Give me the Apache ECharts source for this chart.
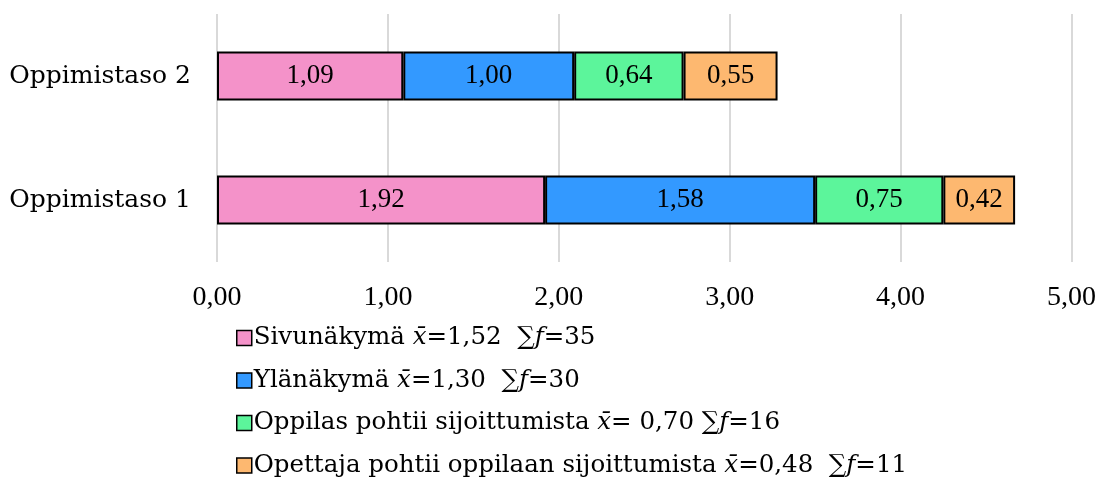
<!DOCTYPE html>
<html>
<head>
<meta charset="utf-8">
<script src="https://cdn.jsdelivr.net/npm/echarts@6/dist/echarts.min.js"></script>
<style>
  html, body { margin: 0; padding: 0; background: #fff; }
  #chart { width: 1099px; height: 483px; }
</style>
</head>
<body>
<div id="chart"></div>
<script>
// Learning levels (bottom to top on the category axis)
const categories = ['Oppimistaso 1', 'Oppimistaso 2'];

// Series names and their per-level values
const seriesNames = ['Sivunäkymä', 'Ylänäkymä', 'Oppilas pohtii sijoittumista', 'Opettaja pohtii oppilaan sijoittumista'];
const sivunakyma = [1.92, 1.09];
const ylanakyma = [1.58, 1.00];
const oppilasPohtii = [0.75, 0.64];
const opettajaPohtii = [0.42, 0.55];

// Legend statistics: mean and frequency sum per series
const meanText = ['=1,52', '=1,30', '= 0,70', '=0,48'];
const sumText = ['35', '30', '16', '11'];
const sumGap = ['  ', '  ', ' ', '  '];

// Axis ticks
const xTicks = [0, 1, 2, 3, 4, 5];

const colors = ['#F492C9', '#3399FF', '#5CF59B', '#FDB870'];
const NUM_FONT = 'Liberation Serif';
const TEXT_FONT = 'DejaVu Serif';

const values = [sivunakyma, ylanakyma, oppilasPohtii, opettajaPohtii];

const chart = echarts.init(document.getElementById('chart'), null, { renderer: 'canvas' });

const fmt = v => v.toFixed(2).replace('.', ',');

chart.setOption({
  animation: false,
  textStyle: { fontFamily: NUM_FONT, color: '#000' },
  grid: { left: 217, right: 27, top: 14, bottom: 221, containLabel: false },
  xAxis: {
    type: 'value',
    min: xTicks[0],
    max: xTicks[xTicks.length - 1],
    interval: 1,
    axisLine: { show: false },
    axisTick: { show: false },
    splitLine: { show: true, lineStyle: { color: '#D9D9D9', width: 2 } },
    axisLabel: {
      margin: 22,
      fontFamily: NUM_FONT,
      fontSize: 28,
      color: '#000',
      formatter: v => fmt(v)
    }
  },
  yAxis: {
    type: 'category',
    data: categories,
    axisLine: { show: false },
    axisTick: { show: false },
    axisLabel: { margin: 26, fontFamily: TEXT_FONT, fontSize: 25, color: '#000' }
  },
  legend: {
    orient: 'vertical',
    left: 231,
    top: 319,
    height: 200,
    itemWidth: 15,
    itemHeight: 15,
    itemGap: 14.5,
    icon: 'rect',
    data: seriesNames,
    itemStyle: { borderColor: '#000', borderWidth: 1.5 },
    textStyle: {
      fontFamily: TEXT_FONT,
      fontSize: 24.5,
      color: '#000',
      lineHeight: 28,
      padding: [0, 0, 0, -3],
      rich: {
        n: { fontFamily: TEXT_FONT, fontSize: 24.5, lineHeight: 28, color: '#000' },
        i: { fontFamily: TEXT_FONT, fontSize: 24.5, lineHeight: 28, fontStyle: 'italic', color: '#000' }
      }
    },
    formatter: name => {
      const k = seriesNames.indexOf(name);
      return '{n|' + name + ' }{i|x\u0304}{n|' + meanText[k] + sumGap[k] + '\u2211}{i|f}{n|=' + sumText[k] + '}';
    }
  },
  series: seriesNames.map((name, k) => ({
    name,
    type: 'bar',
    stack: 'total',
    barWidth: 49,
    data: values[k],
    itemStyle: { color: colors[k], borderColor: '#000', borderWidth: 2 },
    label: {
      show: true,
      position: 'inside',
      fontFamily: NUM_FONT,
      fontSize: 27,
      color: '#000',
      formatter: p => fmt(p.value)
    }
  }))
});
</script>
</body>
</html>
